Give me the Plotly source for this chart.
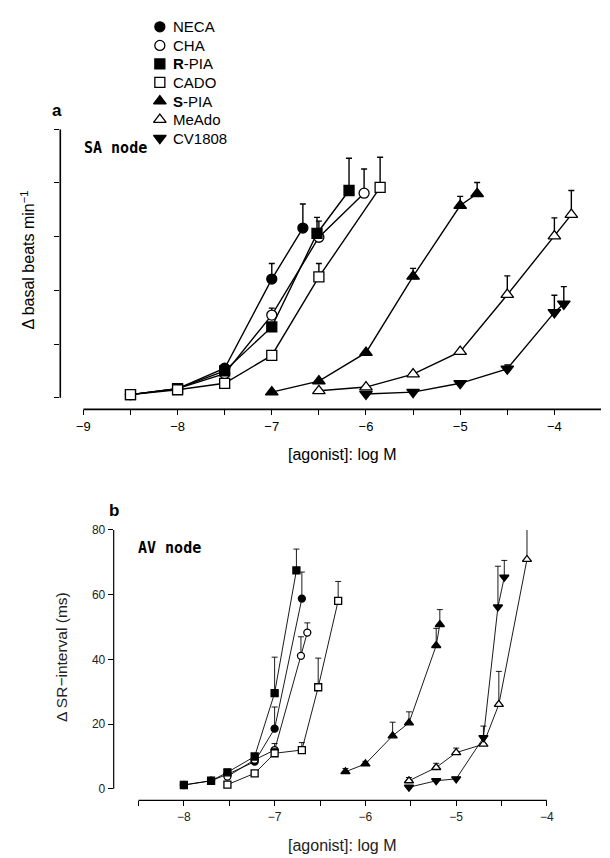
import plotly.graph_objects as go

# ---------------- data: panel a (SA node) ----------------
names = ["NECA", "CHA", "<b>R</b>-PIA", "CADO", "<b>S</b>-PIA", "MeAdo", "CV1808"]
symbols = ["circle", "circle", "square", "square", "triangle-up", "triangle-up", "triangle-down"]
fills = ["black", "white", "black", "white", "black", "white", "black"]

a_x = {
    "NECA":  [-8.5, -8.0, -7.5, -7.0, -6.67],
    "CHA":   [-8.5, -8.0, -7.5, -7.0, -6.5, -6.02],
    "R-PIA": [-8.5, -8.0, -7.5, -7.0, -6.52, -6.18],
    "CADO":  [-8.5, -8.0, -7.5, -7.0, -6.5, -5.85],
    "S-PIA": [-7.0, -6.5, -6.0, -5.5, -5.0, -4.82],
    "MeAdo": [-6.5, -6.0, -5.5, -5.0, -4.5, -4.0, -3.82],
    "CV1808": [-6.0, -5.5, -5.0, -4.5, -4.0, -3.9],
}
a_y = {
    "NECA":  [0.6, 1.7, 5.5, 22.1, 31.6],
    "CHA":   [0.6, 1.7, 4.5, 15.4, 29.9, 38.1],
    "R-PIA": [0.6, 1.7, 5.0, 13.2, 30.6, 38.6],
    "CADO":  [0.6, 1.5, 2.7, 7.9, 22.5, 39.2],
    "S-PIA": [1.05, 3.1, 8.4, 22.6, 35.8, 38.0],
    "MeAdo": [1.3, 2.0, 4.4, 8.6, 19.2, 30.1, 34.1],
    "CV1808": [0.7, 1.05, 2.7, 5.4, 15.9, 17.5],
}
a_err = {
    "NECA":  [0, 0, 0, 2.9, 4.5],
    "CHA":   [0, 0, 0, 1.3, 3.0, 4.5],
    "R-PIA": [0, 0, 0, 0, 3.0, 6.0],
    "CADO":  [0, 0, 0, 0, 2.5, 5.6],
    "S-PIA": [0, 0, 0, 1.5, 1.7, 2.1],
    "MeAdo": [0, 0.3, 0, 0, 3.5, 3.4, 4.5],
    "CV1808": [0, 0, 0, 0.7, 3.2, 3.2],
}

# ---------------- data: panel b (AV node) ----------------
b_x = {
    "NECA":  [-8.0, -7.7, -7.52, -7.22, -7.0, -6.7],
    "CHA":   [-7.52, -7.22, -7.0, -6.71, -6.64],
    "R-PIA": [-8.0, -7.7, -7.52, -7.22, -7.0, -6.76],
    "CADO":  [-7.52, -7.22, -7.0, -6.7, -6.52, -6.3],
    "S-PIA": [-6.22, -6.0, -5.7, -5.52, -5.22, -5.18],
    "MeAdo": [-5.52, -5.22, -5.0, -4.7, -4.53, -4.22],
    "CV1808": [-5.52, -5.22, -5.0, -4.7, -4.54, -4.47],
}
b_y = {
    "NECA":  [1.2, 2.5, 4.5, 8.4, 18.6, 58.8],
    "CHA":   [3.8, 9.0, 12.0, 41.1, 48.3],
    "R-PIA": [1.2, 2.5, 5.1, 10.0, 29.6, 67.5],
    "CADO":  [1.3, 4.8, 11.0, 12.0, 31.4, 58.1],
    "S-PIA": [5.3, 7.7, 16.4, 20.4, 44.3, 50.8],
    "MeAdo": [2.5, 6.6, 11.2, 13.8, 26.1, 70.9],
    "CV1808": [0.5, 2.5, 3.1, 15.8, 56.2, 65.4],
}
b_err = {
    "NECA":  [0, 0, 0, 0, 6.7, 8.2],
    "CHA":   [0, 0, 2.0, 5.9, 3.0],
    "R-PIA": [0, 0, 0, 0, 11.1, 6.6],
    "CADO":  [0, 0, 1.5, 2.3, 9.0, 6.0],
    "S-PIA": [1.0, 0.8, 4.2, 3.4, 5.3, 4.6],
    "MeAdo": [1.0, 1.3, 1.4, 0, 10.2, 9.9],
    "CV1808": [0, 0, 0, 3.6, 12.6, 5.2],
}

keys = ["NECA", "CHA", "R-PIA", "CADO", "S-PIA", "MeAdo", "CV1808"]

a_xticks = [-9, -8, -7, -6, -5, -4]
a_yticks = [0, 10, 20, 30, 40, 50]
b_xticks = [-8, -7, -6, -5, -4]
b_yticks = [0, 20, 40, 60, 80]

W, H = 610, 858
FONT = "Liberation Sans, Arial, sans-serif"

fig = go.Figure()

def add_series(xd, yd, ed, xa, ya, msize, lw):
    for k, sym, fc in zip(keys, symbols, fills):
        n = len(yd[k])
        fig.add_trace(go.Scatter(
            x=xd[k], y=yd[k], mode="lines+markers",
            xaxis=xa, yaxis=ya, showlegend=False,
            line=dict(color="black", width=lw),
            marker=dict(symbol=sym, size=msize + (1 if "triangle" in sym else 0),
                        color=fc, line=dict(color="black", width=1.3)),
            error_y=dict(type="data", symmetric=False, array=ed[k],
                         arrayminus=[0] * n, color="black", thickness=lw, width=3),
        ))

add_series(a_x, a_y, a_err, "x", "y", 10, 1.4)
add_series(b_x, b_y, b_err, "x2", "y2", 7, 0.9)

# key (markers on a hidden helper axis, one row per agonist)
rows = list(range(len(names)))
for i, sym, fc in zip(rows, symbols, fills):
    fig.add_trace(go.Scatter(
        x=[0], y=[i], mode="markers", xaxis="x3", yaxis="y3", showlegend=False,
        hoverinfo="skip",
        marker=dict(symbol=sym, size=10 + (1 if "triangle" in sym else 0), color=fc,
                    line=dict(color="black", width=1.3)),
    ))

# geometry (pixels)
a_left, a_right, a_top, a_bot = 61, 608, 123.3, 405.7
b_left, b_right, b_top, b_bot = 115, 553.3, 527.3, 800

a_xrange = [-9.245, -3.505]
a_yrange = [-2.16, 50]
b_xrange = [-8.773, -4]
b_yrange = [-3.59, 80]

# key axis geometry
key_row0, key_dy, key_top, key_bot = 20.0, 18.7, 8.0, 145.0
key_mx = 161.7

axis_common = dict(showgrid=False, zeroline=False, showline=False, ticks="outside",
                   tickcolor="black", ticklen=5, tickwidth=1.2)

fig.update_layout(
    width=W, height=H, margin=dict(l=0, r=0, t=0, b=0),
    paper_bgcolor="white", plot_bgcolor="white",
    font=dict(family=FONT, color="black"),
    showlegend=False,
    xaxis=dict(domain=[a_left / W, a_right / W], range=a_xrange, anchor="y",
               tickvals=a_xticks, ticktext=[f"\u2212{abs(v)}" for v in a_xticks],
               tickfont=dict(size=13, family=FONT, color="black"),
               minor=dict(dtick=0.5, tick0=-9, ticks="outside", ticklen=5, tickcolor="black", tickwidth=1.2),
               **axis_common),
    yaxis=dict(domain=[1 - a_bot / H, 1 - a_top / H], range=a_yrange, anchor="x",
               tickvals=a_yticks, showticklabels=False, **axis_common),
    xaxis2=dict(domain=[b_left / W, b_right / W], range=b_xrange, anchor="y2",
                tickvals=b_xticks, ticktext=[f"\u2212{abs(v)}" for v in b_xticks],
                tickfont=dict(size=12, family=FONT, color="#222"),
                minor=dict(dtick=0.5, tick0=-8, ticks="outside", ticklen=5, tickcolor="black", tickwidth=1),
                **{**axis_common, "tickwidth": 1}),
    yaxis2=dict(domain=[1 - b_bot / H, 1 - b_top / H], range=b_yrange, anchor="x2",
                tickvals=b_yticks, tickfont=dict(size=12, family=FONT, color="#222"),
                **{**axis_common, "tickwidth": 1}),
    xaxis3=dict(domain=[(key_mx - 10) / W, (key_mx + 10) / W], range=[-1, 1], visible=False,
                anchor="y3", fixedrange=True),
    yaxis3=dict(domain=[1 - key_bot / H, 1 - key_top / H],
                range=[(key_bot - key_row0) / key_dy, -(key_row0 - key_top) / key_dy],
                visible=False, anchor="x3", fixedrange=True),
)

# detached axis lines
shapes = [
    dict(type="line", xref="x domain", yref="y", x0=0, x1=0, y0=a_yticks[0], y1=a_yticks[-1],
         line=dict(color="black", width=1.6)),
    dict(type="line", xref="x", yref="y domain", x0=a_xticks[0], x1=a_xrange[1], y0=0, y1=0,
         line=dict(color="black", width=1.6)),
    dict(type="line", xref="x2 domain", yref="y2", x0=0, x1=0, y0=b_yticks[0], y1=b_yticks[-1],
         line=dict(color="black", width=1.2)),
    dict(type="line", xref="x2", yref="y2 domain", x0=-8.5, x1=b_xticks[-1], y0=0, y1=0,
         line=dict(color="black", width=1.2)),
]
fig.update_layout(shapes=shapes)

ann = [
    dict(text="<b>a</b>", x=58 / W, y=1 - 104 / H, font=dict(size=17)),
    dict(text="<b>b</b>", x=115 / W, y=1 - 508 / H, font=dict(size=17)),
    dict(text="<b>SA node</b>", x=83 / W, y=1 - 142 / H, xanchor="left",
         font=dict(size=15, family="DejaVu Sans Mono, monospace")),
    dict(text="<b>AV node</b>", x=138 / W, y=1 - 545 / H, xanchor="left",
         font=dict(size=15, family="DejaVu Sans Mono, monospace")),
    dict(text="[agonist]: log M", x=346 / W, y=1 - 451 / H, font=dict(size=16)),
    dict(text="[agonist]: log M", x=346 / W, y=1 - 845 / H, font=dict(size=16, color="#222")),
    dict(text="\u0394 basal beats min<sup>\u22121</sup>", x=28 / W, y=1 - 255 / H,
         textangle=-90, font=dict(size=16)),
    dict(text="\u0394 SR\u2212interval (ms)", x=62 / W, y=1 - 655 / H,
         textangle=-90, font=dict(size=15.5, color="#222")),
]
for a in ann:
    a.setdefault("xanchor", "center")
    a.update(xref="paper", yref="paper", showarrow=False, yanchor="middle")
    a["font"] = {"family": FONT, "color": "black", **a["font"]}

# key labels
for i, nm in zip(rows, names):
    ann.append(dict(text=nm, x=(key_mx + 11) / W, xref="paper", xanchor="left",
                    y=i, yref="y3", yanchor="middle", showarrow=False,
                    font=dict(family=FONT, size=15, color="black")))

fig.update_layout(annotations=ann)

fig.write_html("out.html")
